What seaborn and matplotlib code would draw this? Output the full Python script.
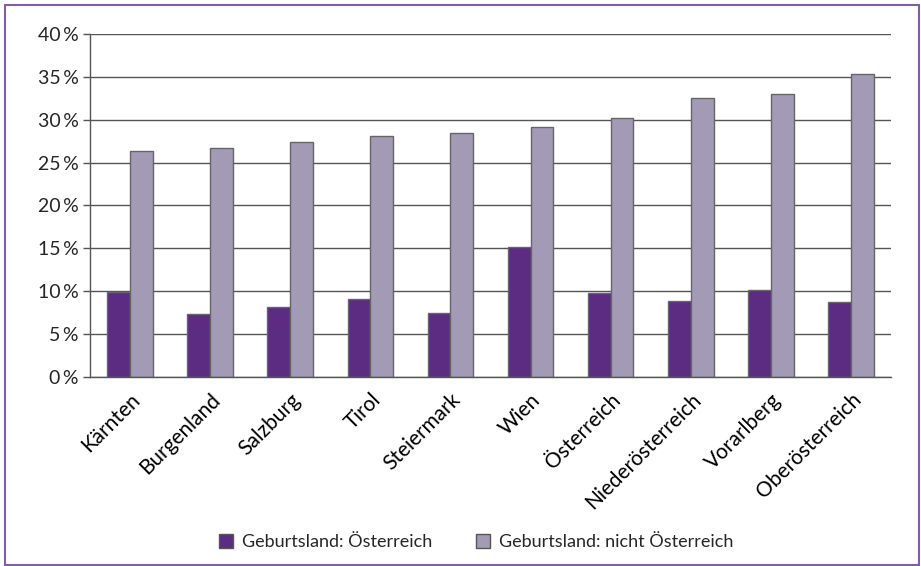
import matplotlib
matplotlib.use("Agg")
import matplotlib.pyplot as plt
import matplotlib.patches as mpatches
from matplotlib.ticker import FixedLocator, FuncFormatter
import seaborn as sns
import pandas as pd

regions = ["Kärnten", "Burgenland", "Salzburg", "Tirol", "Steiermark", "Wien",
           "Österreich", "Niederösterreich", "Vorarlberg", "Oberösterreich"]
at_born = [9.9, 7.3, 8.2, 9.1, 7.5, 15.2, 9.8, 8.9, 10.1, 8.7]
not_at_born = [26.4, 26.7, 27.4, 28.1, 28.5, 29.2, 30.2, 32.5, 33.0, 35.3]
series = ["Geburtsland: Österreich", "Geburtsland: nicht Österreich"]
colors = ["#5b2c81", "#a39ab6"]

df = pd.DataFrame({
    "region": regions * 2,
    "value": at_born + not_at_born,
    "series": [series[0]] * len(regions) + [series[1]] * len(regions),
})

sns.set_style("white")
plt.rcParams["font.family"] = ["Lato", "DejaVu Sans"]

fig = plt.figure(figsize=(9.21, 5.66), dpi=100)
ax = fig.add_axes([0.0977, 0.334, 0.8697, 0.606])

sns.barplot(data=df, x="region", y="value", hue="series", palette=colors,
            width=0.57, edgecolor="#666666", linewidth=1.0, ax=ax,
            saturation=1, legend=False)

ax.set_ylim(0, 40)
ax.set_xlim(-0.5, len(regions) - 0.5)
ax.set_yticks(range(0, 41, 5))
ax.yaxis.set_major_formatter(FuncFormatter(lambda v, p: f"{int(v)}\u2009%"))
ax.grid(axis="y", color="#555555", linewidth=1.0)
ax.set_axisbelow(True)

ax.set_xticks(range(len(regions)))
ax.set_xticklabels(regions, rotation=45, ha="right", rotation_mode="anchor")
ax.xaxis.set_minor_locator(FixedLocator([i - 0.5 for i in range(len(regions) + 1)]))
ax.tick_params(axis="x", which="major", length=0, pad=9, labelsize=15, colors="black")
ax.tick_params(axis="x", which="minor", length=5, width=1, color="#555555", direction="out")
ax.tick_params(axis="y", length=5, width=1, color="#555555", direction="out",
               labelsize=14, pad=3, left=True)
ax.set_xlabel("")
ax.set_ylabel("")

for side in ["top", "right"]:
    ax.spines[side].set_visible(False)
for side in ["left", "bottom"]:
    ax.spines[side].set_color("#555555")
    ax.spines[side].set_linewidth(1.0)

handles = [mpatches.Patch(facecolor=c, edgecolor="#555555", label=s)
           for c, s in zip(colors, series)]
fig.legend(handles=handles, loc="center", bbox_to_anchor=(0.517, 0.042), ncol=2,
           frameon=False, fontsize=13, handlelength=0.8, handleheight=0.8,
           columnspacing=2.4, handletextpad=0.5)

fig.patches.append(mpatches.Rectangle((0.005, 0.002), 0.993, 0.99, transform=fig.transFigure,
                                      fill=False, edgecolor="#7f5fa8", linewidth=1.5))

fig.savefig("out.png", dpi=100)
plt.close(fig)
